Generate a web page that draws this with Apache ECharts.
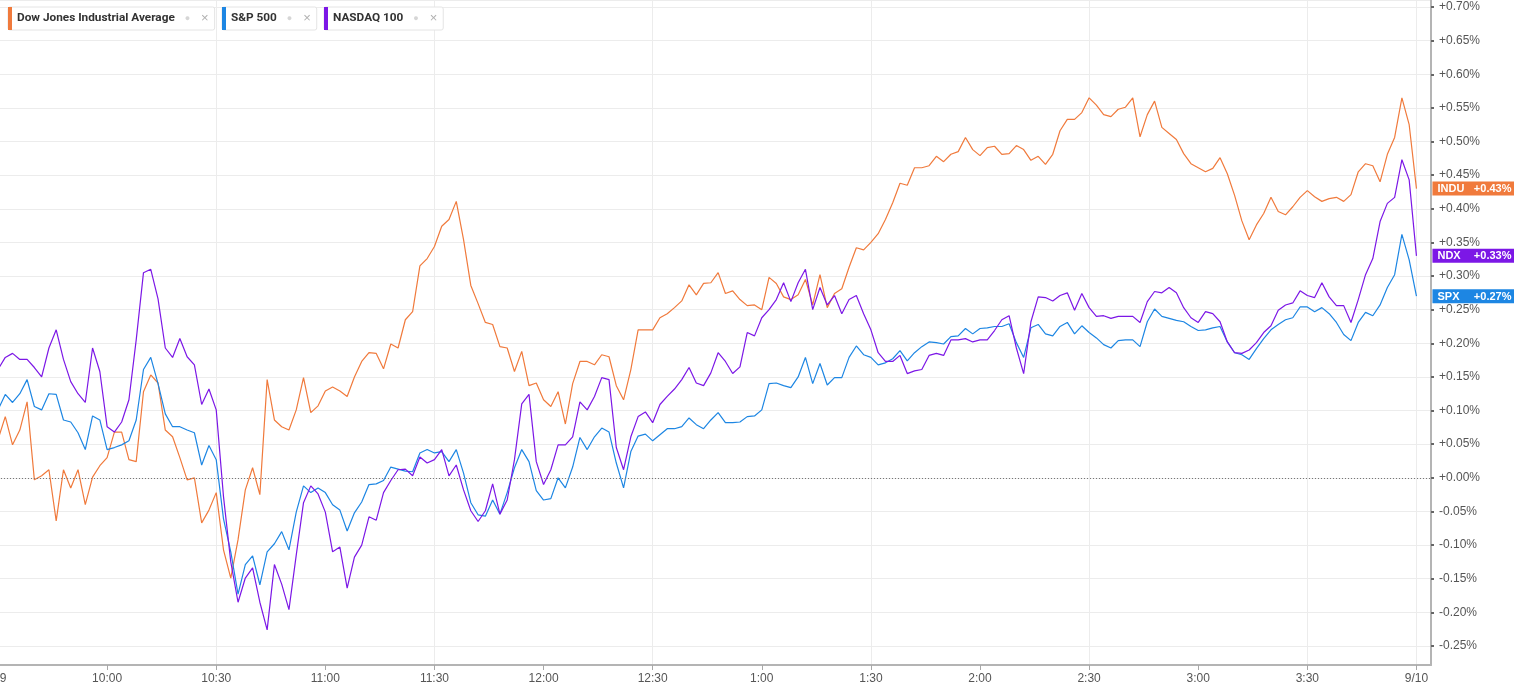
<!DOCTYPE html>
<html>
<head>
<meta charset="utf-8">
<title>INDU / SPX / NDX intraday</title>
<script src="https://cdn.jsdelivr.net/npm/echarts@6.0.0/dist/echarts.min.js"></script>
<style>
  html, body { margin: 0; padding: 0; background: #fff; }
  #chart { width: 1514px; height: 691px; }
</style>
</head>
<body>
<div id="chart"></div>
<script>
// percent change from previous close, one value every 2 minutes, 9:30 -> 16:00
const indu = [
  0.057, 0.091, 0.049, 0.071, 0.113, -0.003, 0.003, 0.012, -0.064, 0.012,
  -0.015, 0.012, -0.040, 0.001, 0.018, 0.030, 0.068, 0.068, 0.027, 0.024,
  0.128, 0.153, 0.141, 0.071, 0.061, 0.030, -0.003, 0.000, -0.067, -0.048,
  -0.022, -0.107, -0.149, -0.092, -0.018, 0.015, -0.025, 0.146, 0.086, 0.076,
  0.071, 0.101, 0.149, 0.097, 0.107, 0.129, 0.135, 0.129, 0.121, 0.150,
  0.173, 0.186, 0.185, 0.162, 0.199, 0.193, 0.235, 0.247, 0.315, 0.326,
  0.344, 0.374, 0.384, 0.411, 0.354, 0.286, 0.259, 0.231, 0.228, 0.195,
  0.193, 0.158, 0.188, 0.137, 0.141, 0.116, 0.106, 0.128, 0.080, 0.140,
  0.173, 0.173, 0.168, 0.183, 0.180, 0.137, 0.116, 0.161, 0.220, 0.220,
  0.220, 0.238, 0.244, 0.253, 0.263, 0.287, 0.272, 0.289, 0.290, 0.305,
  0.274, 0.278, 0.265, 0.256, 0.257, 0.250, 0.298, 0.289, 0.269, 0.265,
  0.272, 0.295, 0.257, 0.302, 0.253, 0.274, 0.281, 0.313, 0.342, 0.339,
  0.350, 0.363, 0.384, 0.409, 0.438, 0.435, 0.461, 0.461, 0.464, 0.478,
  0.470, 0.481, 0.485, 0.506, 0.488, 0.479, 0.491, 0.493, 0.481, 0.482,
  0.494, 0.488, 0.472, 0.478, 0.466, 0.481, 0.516, 0.533, 0.533, 0.543,
  0.565, 0.554, 0.540, 0.537, 0.548, 0.551, 0.565, 0.507, 0.540, 0.560,
  0.521, 0.512, 0.503, 0.482, 0.467, 0.461, 0.455, 0.460, 0.476, 0.452,
  0.420, 0.382, 0.354, 0.376, 0.393, 0.417, 0.396, 0.391, 0.403, 0.417,
  0.427, 0.418, 0.411, 0.415, 0.417, 0.411, 0.421, 0.455, 0.467, 0.464,
  0.440, 0.481, 0.506, 0.565, 0.525, 0.430
]
const spx = [
  0.101, 0.124, 0.112, 0.125, 0.146, 0.106, 0.101, 0.125, 0.124, 0.086,
  0.083, 0.067, 0.042, 0.092, 0.086, 0.042, 0.045, 0.049, 0.055, 0.086,
  0.161, 0.179, 0.140, 0.095, 0.076, 0.076, 0.071, 0.067, 0.019, 0.048,
  0.027, -0.061, -0.110, -0.173, -0.129, -0.116, -0.159, -0.110, -0.098, -0.080,
  -0.107, -0.051, -0.012, -0.022, -0.015, -0.022, -0.040, -0.048, -0.079, -0.052,
  -0.036, -0.010, -0.009, -0.004, 0.016, 0.013, 0.010, 0.009, 0.037, 0.042,
  0.037, 0.039, 0.024, 0.042, 0.007, -0.037, -0.055, -0.057, -0.033, -0.054,
  -0.022, 0.015, 0.042, 0.024, -0.019, -0.033, -0.031, 0.000, -0.015, 0.016,
  0.060, 0.042, 0.061, 0.074, 0.068, 0.022, -0.015, 0.039, 0.062, 0.065,
  0.055, 0.064, 0.073, 0.073, 0.076, 0.089, 0.079, 0.073, 0.086, 0.097,
  0.082, 0.082, 0.083, 0.091, 0.092, 0.101, 0.140, 0.141, 0.137, 0.134,
  0.150, 0.179, 0.140, 0.170, 0.138, 0.149, 0.149, 0.179, 0.196, 0.183,
  0.179, 0.168, 0.171, 0.177, 0.189, 0.174, 0.186, 0.195, 0.202, 0.201,
  0.199, 0.210, 0.211, 0.222, 0.214, 0.222, 0.223, 0.225, 0.225, 0.229,
  0.201, 0.179, 0.223, 0.228, 0.214, 0.211, 0.225, 0.231, 0.214, 0.226,
  0.216, 0.208, 0.198, 0.193, 0.204, 0.205, 0.205, 0.195, 0.232, 0.251,
  0.240, 0.237, 0.234, 0.232, 0.225, 0.219, 0.220, 0.223, 0.225, 0.202,
  0.186, 0.183, 0.176, 0.192, 0.207, 0.220, 0.228, 0.235, 0.238, 0.254,
  0.254, 0.247, 0.253, 0.244, 0.231, 0.213, 0.204, 0.231, 0.246, 0.241,
  0.257, 0.283, 0.302, 0.362, 0.324, 0.270
]
const ndx = [
  0.161, 0.179, 0.185, 0.176, 0.176, 0.164, 0.150, 0.193, 0.220, 0.176,
  0.143, 0.125, 0.112, 0.193, 0.158, 0.076, 0.068, 0.083, 0.116, 0.205,
  0.305, 0.310, 0.266, 0.193, 0.179, 0.207, 0.180, 0.168, 0.109, 0.132,
  0.101, -0.028, -0.125, -0.185, -0.149, -0.134, -0.185, -0.226, -0.129, -0.158,
  -0.196, -0.115, -0.037, -0.012, -0.024, -0.051, -0.110, -0.103, -0.164, -0.118,
  -0.100, -0.058, -0.063, -0.022, -0.004, 0.012, 0.013, 0.003, 0.031, 0.022,
  0.027, 0.042, 0.003, 0.019, -0.018, -0.049, -0.065, -0.049, -0.009, -0.054,
  -0.033, 0.027, 0.110, 0.124, 0.024, -0.010, 0.012, 0.049, 0.049, 0.061,
  0.113, 0.101, 0.121, 0.149, 0.146, 0.045, 0.012, 0.061, 0.091, 0.098,
  0.082, 0.109, 0.121, 0.132, 0.146, 0.164, 0.141, 0.137, 0.156, 0.186,
  0.173, 0.155, 0.165, 0.216, 0.211, 0.238, 0.250, 0.265, 0.290, 0.262,
  0.290, 0.310, 0.250, 0.283, 0.257, 0.271, 0.244, 0.265, 0.271, 0.244,
  0.220, 0.186, 0.173, 0.173, 0.182, 0.155, 0.159, 0.161, 0.182, 0.185,
  0.182, 0.205, 0.205, 0.207, 0.202, 0.205, 0.205, 0.219, 0.235, 0.241,
  0.193, 0.155, 0.232, 0.269, 0.268, 0.263, 0.271, 0.275, 0.249, 0.274,
  0.253, 0.240, 0.241, 0.237, 0.240, 0.240, 0.240, 0.231, 0.262, 0.277,
  0.275, 0.283, 0.275, 0.253, 0.238, 0.231, 0.247, 0.244, 0.232, 0.202,
  0.186, 0.185, 0.190, 0.201, 0.216, 0.226, 0.249, 0.257, 0.260, 0.278,
  0.271, 0.268, 0.290, 0.269, 0.256, 0.256, 0.231, 0.265, 0.302, 0.326,
  0.381, 0.408, 0.417, 0.473, 0.443, 0.330
]

const names = ['Dow Jones Industrial Average', 'S&P 500', 'NASDAQ 100']
const tags = ['INDU', 'SPX', 'NDX']
const colors = ['#f07a3c', '#1d86e3', '#7c17e6']
const legendLeft = [8, 222, 324]

// axis categories: 9:30 to 16:04 every 2 minutes (plot runs a little past the close)
const times = []
for (let m = 9 * 60 + 30; m <= 16 * 60 + 4; m += 2) {
  times.push(Math.floor(m / 60) + ':' + String(m % 60).padStart(2, '0'))
}
const lastIndex = indu.length - 1

function hm (v) {
  const p = v.split(':')
  return [Number(p[0]), Number(p[1])]
}
function isHalfHour (i, v) {
  return i <= lastIndex && hm(v)[1] % 30 === 0
}
function isGridLine (i, v) {
  const [h, m] = hm(v)
  return (h >= 10 && m === 30) || (h === 16 && m === 0)
}
function timeLabel (v) {
  const [h, m] = hm(v)
  if (h === 9 && m === 30) return '9/9'
  if (h === 16 && m === 0) return '9/10'
  return (h > 12 ? h - 12 : h) + ':' + String(m).padStart(2, '0')
}
function pct (v) {
  return (v >= 0 ? '+' : '') + v.toFixed(2) + '%'
}

const axisFont = 'Liberation Sans, Arial, sans-serif'

const chart = echarts.init(document.getElementById('chart'))

const series = [indu, spx, ndx].map((data, k) => ({
  name: names[k],
  type: 'line',
  data: data,
  showSymbol: false,
  symbol: 'none',
  color: colors[k],
  lineStyle: { width: 1.2, color: colors[k] },
  emphasis: { disabled: true },
  endLabel: {
    show: true,
    distance: 16,
    formatter: p => '{n|' + tags[k] + '}{v|' + pct(p.value) + '}',
    backgroundColor: colors[k],
    padding: [2, 3, 1, 5],
    rich: {
      n: { color: '#fff', fontSize: 11, fontWeight: 'bold', fontFamily: axisFont, width: 36 },
      v: { color: '#fff', fontSize: 11, fontWeight: 'bold', fontFamily: axisFont, width: 38, align: 'right' }
    }
  }
}))

// dotted zero line
series[0].markLine = {
  silent: true,
  symbol: 'none',
  label: { show: false },
  lineStyle: { type: [1, 2], color: '#777', width: 1 },
  data: [{ yAxis: 0 }]
}

chart.setOption({
  animation: false,
  backgroundColor: '#fff',
  legend: names.map((name, k) => ({
    data: [name],
    left: legendLeft[k],
    top: 7,
    orient: 'horizontal',
    selectedMode: false,
    icon: 'rect',
    itemWidth: 4,
    itemHeight: 23,
    padding: [0, 6, 0, 0],
    borderColor: '#e4e4e4',
    borderWidth: 1,
    borderRadius: 2,
    backgroundColor: '#fff',
    formatter: n => '{n|' + n + '}{i|    ●}{x|   ×}',
    textStyle: {
      rich: {
        n: { color: '#333', fontSize: 11.8, fontWeight: 'bold', fontFamily: 'Roboto, sans-serif' },
        i: { color: '#d6d6d6', fontSize: 9 },
        x: { color: '#b0b0b0', fontSize: 13 }
      }
    }
  })),
  grid: {
    left: -2,
    right: 83,
    top: 0,
    bottom: 26,
    containLabel: false,
    outerBoundsMode: 'none'
  },
  xAxis: {
    type: 'category',
    data: times,
    boundaryGap: false,
    axisLine: { onZero: false, lineStyle: { color: '#b4b4b4', width: 2 } },
    axisTick: { interval: isHalfHour, length: 5, lineStyle: { color: '#a8a8a8' } },
    axisLabel: {
      interval: isHalfHour,
      formatter: timeLabel,
      color: '#555',
      fontSize: 12,
      fontFamily: axisFont,
      margin: 8
    },
    splitLine: { show: true, interval: isGridLine, lineStyle: { color: '#ececec', width: 1 } }
  },
  yAxis: {
    type: 'value',
    position: 'right',
    min: -0.2783,
    max: 0.7104,
    splitNumber: 20,
    axisLine: { show: true, lineStyle: { color: '#b4b4b4', width: 2 } },
    axisTick: { show: true, length: 3, lineStyle: { color: '#666', width: 2 } },
    axisLabel: {
      formatter: pct,
      color: '#555',
      fontSize: 12,
      fontFamily: axisFont,
      margin: 8,
      showMinLabel: false,
      showMaxLabel: false
    },
    splitLine: { show: true, lineStyle: { color: '#ececec', width: 1 } }
  },
  series: series
})
</script>
</body>
</html>
